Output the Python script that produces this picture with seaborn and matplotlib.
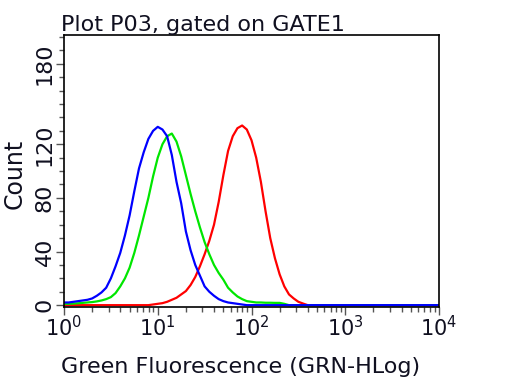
import numpy as np
import pandas as pd
import matplotlib
matplotlib.use('Agg')
import matplotlib.pyplot as plt
import seaborn as sns
from matplotlib.ticker import LogLocator, MultipleLocator, NullFormatter

# histogram counts, one value every 0.05 decade
LOG_STEP = 0.05
blue_start = 0.00
blue_counts = [2, 2, 2.5, 3, 3.5, 4, 5, 7, 9.5, 13,
               20, 29, 39, 52, 67, 85, 102, 114, 124, 130,
               133, 131, 126, 112, 92, 76, 55, 41, 30, 22,
               14, 10, 7, 4.5, 3, 2, 1.5, 1, 0.5]
green_start = 0.00
green_counts = [1, 1, 1.2, 1.4, 1.7, 2, 2.3, 2.8, 3.5, 4.5,
                6, 9, 14, 20, 28, 39, 52, 66, 80, 96,
                110, 120, 126, 128, 122, 111, 97, 83, 70, 58,
                47, 38, 30, 24, 19, 13, 9.5, 6.5, 4.5, 3,
                2.5, 2, 2, 1.8, 1.8, 1.7, 1.7, 1]
red_start = 0.95
red_counts = [0.5, 1, 1.5, 2.5, 4, 5.5, 8, 10.5, 15, 21,
              29, 38, 48, 60, 77, 97, 115, 126, 132, 134,
              131, 123, 110, 92, 70, 50, 35, 23, 14, 8,
              5, 2.5, 1.2]

x_ticks = [1, 10, 100, 1000, 10000]
x_labels = [r'$\mathregular{10^{0}}$', r'$\mathregular{10^{1}}$', r'$\mathregular{10^{2}}$',
            r'$\mathregular{10^{3}}$', r'$\mathregular{10^{4}}$']
y_ticks = [0, 40, 80, 120, 180]
y_labels = ['0', '40', '80', '120', '180']

palette = {'red': '#ff0000', 'green': '#00e600', 'blue': '#0000ff'}

sns.set_theme(style='white')
plt.rcParams['font.family'] = ['DejaVu Sans']
plt.rcParams['text.color'] = '#101020'
plt.rcParams['axes.labelcolor'] = '#101020'
plt.rcParams['xtick.color'] = '#555555'
plt.rcParams['ytick.color'] = '#555555'
plt.rcParams['xtick.labelcolor'] = '#101020'
plt.rcParams['ytick.labelcolor'] = '#101020'

# put every series on the full 10^0..10^4 channel range, zero outside the peak
grid = np.round(np.arange(0, 4.0001, LOG_STEP), 2)
frames = []
for name, start, counts in [('red', red_start, red_counts),
                            ('green', green_start, green_counts),
                            ('blue', blue_start, blue_counts)]:
    full = np.zeros(len(grid))
    i0 = int(round(start / LOG_STEP))
    full[i0:i0 + len(counts)] = counts
    frames.append(pd.DataFrame({'fl': 10 ** grid, 'count': full, 'sample': name}))
df = pd.concat(frames, ignore_index=True)

fig = plt.figure(figsize=(5.12, 3.84), dpi=100)
ax = fig.add_axes([64 / 512, 1 - 306.5 / 384, 375 / 512, 271.5 / 384])

sns.lineplot(data=df, x='fl', y='count', hue='sample', palette=palette,
             estimator=None, sort=True, legend=False, linewidth=1.6, ax=ax)

ax.set_xscale('log')
ax.set_xlim(1, 1e4)
ax.set_ylim(-1, 201.5)

ax.set_xticks(x_ticks, labels=x_labels)
ax.xaxis.set_minor_locator(LogLocator(base=10, subs=range(2, 10)))
ax.xaxis.set_minor_formatter(NullFormatter())
ax.set_yticks(y_ticks, labels=y_labels)
ax.yaxis.set_minor_locator(MultipleLocator(10))

ax.tick_params(axis='both', which='both', direction='out', width=1,
               bottom=True, left=True, top=False, right=False)
ax.tick_params(which='major', length=6)
ax.tick_params(which='minor', length=3.5)
ax.tick_params(axis='x', which='major', labelsize=15, pad=0)
ax.tick_params(axis='y', which='major', labelsize=16, pad=0.7, labelrotation=90)
for lab in ax.get_yticklabels():
    lab.set_va('center')

for sp in ax.spines.values():
    sp.set_color('black')
    sp.set_linewidth(1.2)

ax.set_title('Plot P03, gated on GATE1', loc='left', fontsize=16, pad=3, x=-0.008)
ax.set_xlabel('Green Fluorescence (GRN-HLog)', fontsize=16)
ax.xaxis.set_label_coords(0.472, -0.185)
ax.set_ylabel('Count', fontsize=17)
ax.yaxis.set_label_coords(-0.099, 0.49)

fig.savefig('out.png', dpi=100)
